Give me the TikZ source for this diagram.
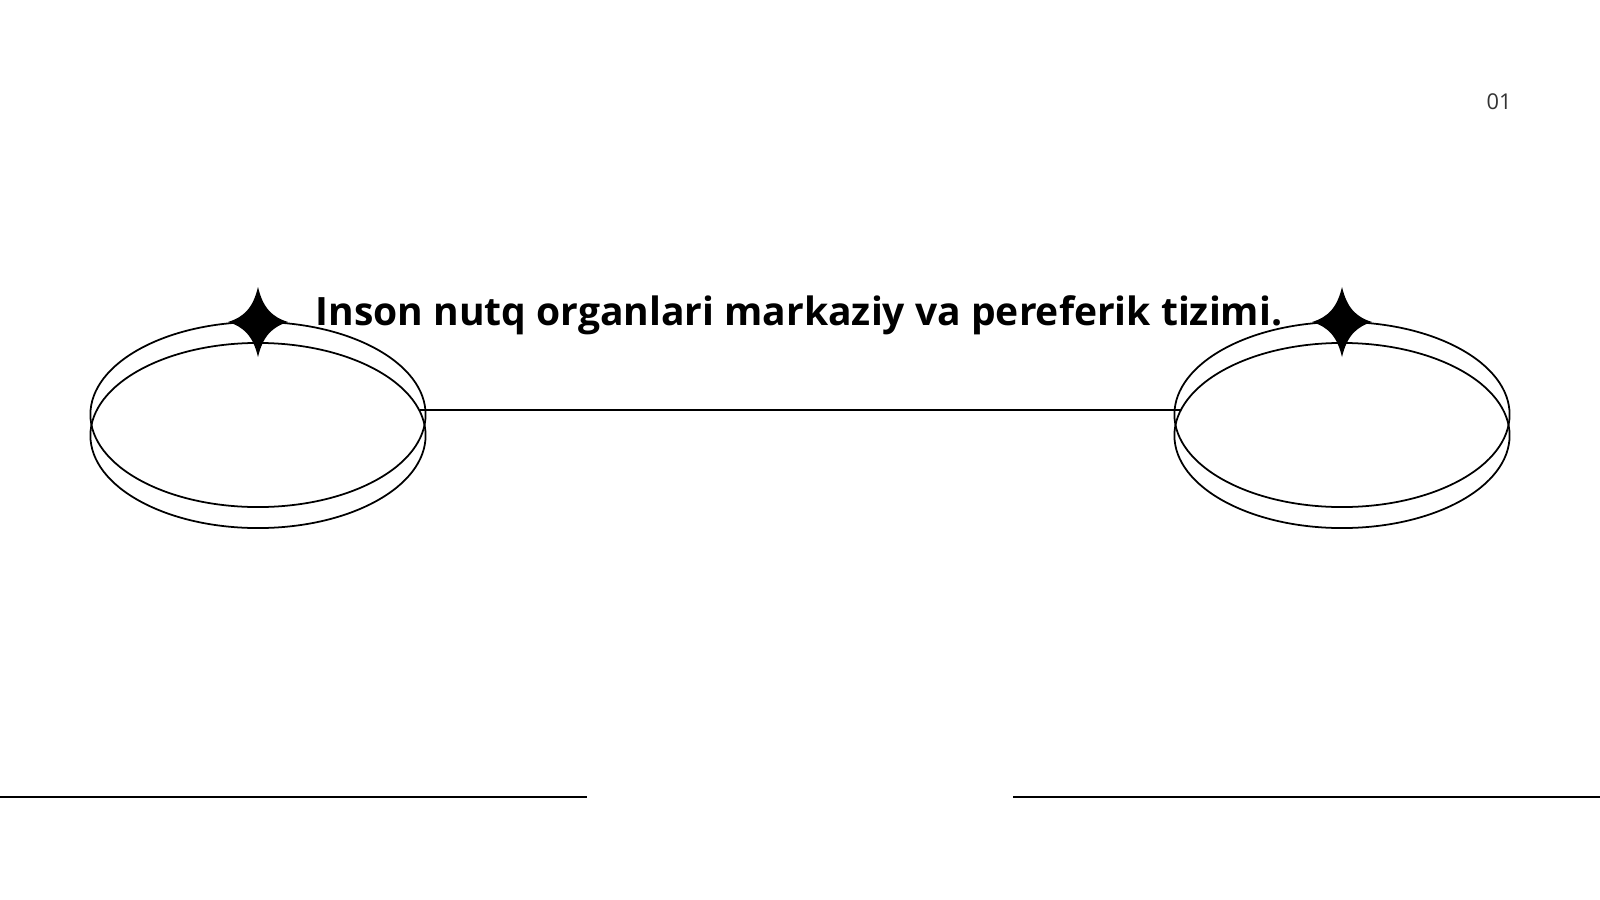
\documentclass[tikz,border=0pt]{standalone}
\usepackage{fontspec}
\usetikzlibrary{shapes.geometric}
\newfontfamily\opensans{Open Sans}

\begin{document}
\begin{tikzpicture}
[x = 0.01cm, y = -0.01cm,
 ring/.style    = {draw = inkcolor, ellipse, line width = 0.5pt,
                   minimum width = 3.35cm, minimum height = 1.85cm, inner sep = 0pt},
 rule/.style    = {draw = inkcolor, line width = 0.6pt},
 title/.style   = {font = \opensans\bfseries\fontsize{11.1}{13}\selectfont, anchor = base},
 pagenum/.style = {font = \opensans\fontsize{6.2}{7}\selectfont, text = pagecolor, anchor = base}]

% Define colors
\colorlet{inkcolor}{black}
\colorlet{pagecolor}{black!80}

\useasboundingbox (0,0) rectangle (1600,900);

% four pointed star
\newcommand{\sparkle}[1]{\fill[inkcolor, shift = {(#1)}]
  (0,-35) .. controls (5,-14) and (14,-5) .. (30,0)
          .. controls (14,5) and (5,14) .. (0,35)
          .. controls (-5,14) and (-14,5) .. (-30,0)
          .. controls (-14,-5) and (-5,-14) .. cycle;}

%%%%%%%%%% LEFT RING
  \node[ring] (leftup)  at (258,414.5) {};
  \node[ring] (leftlow) at (258,435.5) {};
  \sparkle{258,322}

%%%%%%%%%% RIGHT RING
  \node[ring] (rightup)  at (1342,414.5) {};
  \node[ring] (rightlow) at (1342,435.5) {};
  \sparkle{1342,322}

%%%%%%%%%% CONNECTION
  \draw[rule] (leftlow.9.75) -- (rightlow.170.25 |- leftlow.9.75);

%%%%%%%%%% TEXTS
  \node[title] (title) at (799,325) {Inson nutq organlari markaziy va pereferik tizimi.};
  \node[pagenum] (page) at (1499,109) {01};

%%%%%%%%%% BOTTOM RULES
  \draw[rule] (0,797) -- (587,797);
  \draw[rule] (1013,797) -- (1600,797);

\end{tikzpicture}
\end{document}
